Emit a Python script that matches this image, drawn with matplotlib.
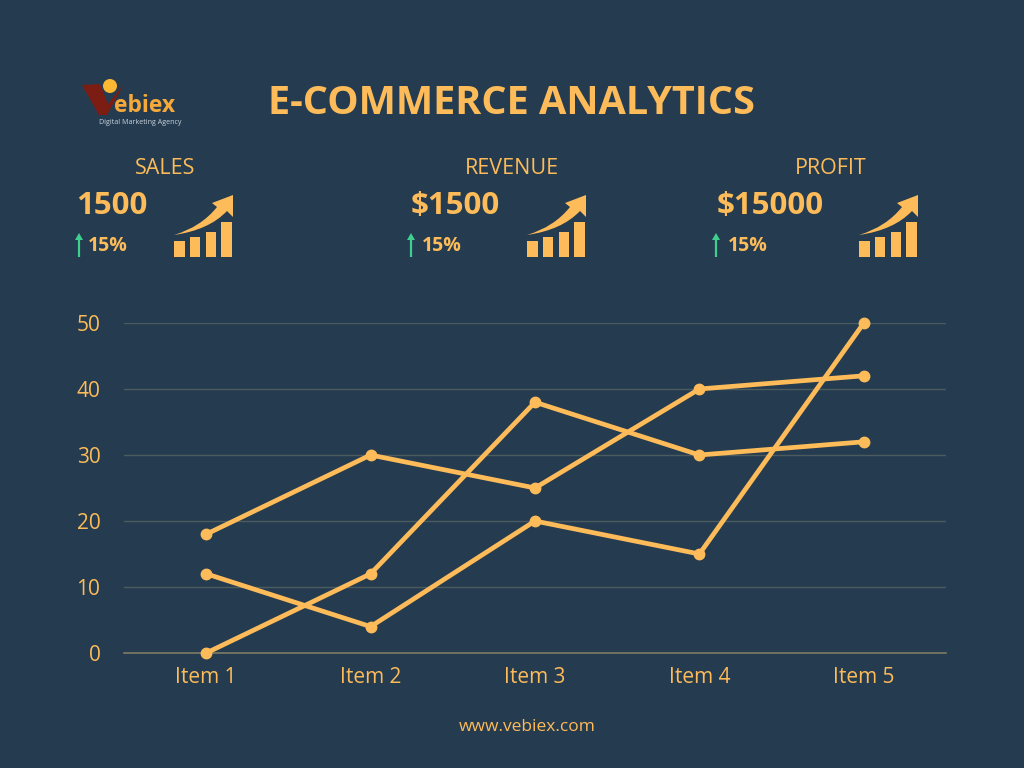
import matplotlib
matplotlib.use("Agg")
import matplotlib.pyplot as plt
from matplotlib.patches import Circle, Polygon, Rectangle, PathPatch
from matplotlib.path import Path

# values
ITEMS = ["Item 1", "Item 2", "Item 3", "Item 4", "Item 5"]
SERIES_A = [18, 30, 25, 40, 42]
SERIES_B = [12, 4, 20, 15, 50]
SERIES_C = [0, 12, 38, 30, 32]
Y_TICKS = [0, 10, 20, 30, 40, 50]
KPI_NAMES = ["SALES", "REVENUE", "PROFIT"]
KPI_VALUES = ["1500", "$1500", "$15000"]
KPI_CHANGE = ["15%", "15%", "15%"]

BG = "#253b50"
ORANGE = "#fdbb59"
GREEN = "#3fd08f"
GRID = "#4c5c5e"
FONT = "Open Sans"

plt.rcParams["font.family"] = FONT

fig = plt.figure(figsize=(10.24, 7.68), dpi=100, facecolor=BG)

# overlay in pixel coordinates for header and icons
overlay = fig.add_axes([0, 0, 1, 1], zorder=2)
overlay.set_xlim(0, 1024)
overlay.set_ylim(768, 0)
overlay.axis("off")


def draw_icon(x, y):
    # x, y = bottom left corner of the first bar
    for i, h in enumerate([16, 20, 25, 35]):
        overlay.add_patch(Rectangle((x + i * 15.8, y - h), 10.5, h, fc=ORANGE, ec="none"))
    verts = [(x, y - 22), (x + 27, y - 30), (x + 43, y - 50), (x + 38, y - 54),
             (x + 59, y - 62), (x + 59, y - 40), (x + 53, y - 46), (x + 35, y - 27), (x, y - 22)]
    codes = [Path.MOVETO, Path.CURVE3, Path.CURVE3, Path.LINETO,
             Path.LINETO, Path.LINETO, Path.LINETO, Path.CURVE3, Path.CURVE3]
    overlay.add_patch(PathPatch(Path(verts, codes), fc=ORANGE, ec="none"))


def draw_up_arrow(x):
    overlay.plot([x, x], [238, 257], color=GREEN, lw=1.6, solid_capstyle="butt")
    overlay.add_patch(Polygon([(x - 4, 240), (x, 233), (x + 4, 240)], fc=GREEN, ec="none"))


# logo
overlay.add_patch(Polygon([(82, 85), (100, 84), (108, 104), (124, 84), (107, 115), (99, 115)],
                          fc="#7c1d14", ec="none"))
overlay.add_patch(Circle((110, 86), 7, fc="#fdb833", ec="none"))
overlay.text(114, 112, "ebiex", color="#f5a93a", fontsize=16.5, fontweight="bold", va="baseline")
overlay.text(140.5, 122, "Digital Marketing Agency", color="#c8d4de", fontsize=5.1, ha="center", va="center")

overlay.text(512, 103, "E-COMMERCE ANALYTICS", color=ORANGE, fontsize=28.5, fontweight="bold",
             ha="center", va="center")

name_x = [165, 512, 831]
value_x = [76, 411, 717]
arrow_x = [79, 411, 716]
change_x = [88, 422, 728]
icon_x = [174, 527, 859]
for i in range(3):
    overlay.text(name_x[i], 168, KPI_NAMES[i], color=ORANGE, fontsize=15.5, ha="center", va="center")
    overlay.text(value_x[i], 206, KPI_VALUES[i], color=ORANGE, fontsize=22.5, fontweight="bold",
                 ha="left", va="center")
    overlay.text(change_x[i], 246, KPI_CHANGE[i], color=ORANGE, fontsize=14, fontweight="bold",
                 ha="left", va="center")
    draw_up_arrow(arrow_x[i])
    draw_icon(icon_x[i], 257)

overlay.text(527, 727, "www.vebiex.com", color=ORANGE, fontsize=12.5, ha="center", va="center")

# line chart, placed so the gridlines land on the reference pixels
ax = fig.add_axes([124 / 1024, (768 - 653) / 768, 822 / 1024, 330 / 768], facecolor="none", zorder=1)
x = list(range(len(ITEMS)))
for values in [SERIES_A, SERIES_B, SERIES_C]:
    ax.plot(x, values, color=ORANGE, lw=3.4, marker="o", ms=7.5, clip_on=False, zorder=3)

ax.set_xlim(-0.5, 4.5)
ax.set_ylim(0, 50)
ax.set_yticks(Y_TICKS)
ax.set_xticks(x)
ax.set_xticklabels(ITEMS)
ax.tick_params(axis="both", length=0, labelcolor=ORANGE, labelsize=15)
ax.tick_params(axis="x", pad=10)
ax.tick_params(axis="y", pad=17)
ax.grid(axis="y", color=GRID, lw=1)
ax.set_axisbelow(True)
for side in ["top", "right", "left"]:
    ax.spines[side].set_visible(False)
ax.spines["bottom"].set_color("#7d7a63")
ax.spines["bottom"].set_linewidth(1.2)

fig.savefig("out.png", dpi=100, facecolor=BG)
